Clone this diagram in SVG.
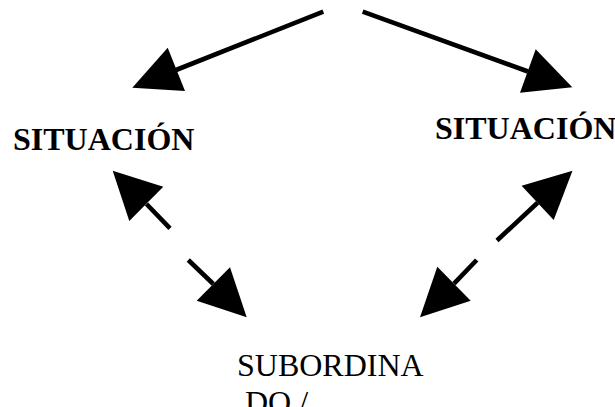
<svg xmlns="http://www.w3.org/2000/svg" width="615" height="407" viewBox="0 0 615 407">
  <style>
    .ln { stroke: #000; stroke-width: 4.6; fill: none; }
    .hd { fill: #000; stroke: none; }
    .lbl { font-family: "Liberation Serif", "Times New Roman", serif; font-size: 32px; fill: #000; }
    .b { font-weight: bold; }
  </style>
  <rect width="615" height="407" fill="#fff"/>
  <g id="connectors">
    <line class="ln" x1="323.3" y1="11.7" x2="176" y2="70"/>
    <polygon class="hd" points="132.3,87.7 167.7,47.7 185,91"/>
    <line class="ln" x1="362.7" y1="11.7" x2="528" y2="71.5"/>
    <polygon class="hd" points="572.3,87.3 535.7,49.3 520,92.7"/>
    <line class="ln" x1="170" y1="228.3" x2="146.5" y2="204"/>
    <polygon class="hd" points="112.7,170.7 163.3,186.7 129.3,221"/>
    <line class="ln" x1="188.3" y1="260" x2="213.3" y2="284"/>
    <polygon class="hd" points="246.7,317.3 230,267.3 196.7,300.7"/>
    <line class="ln" x1="497" y1="240.5" x2="537.6" y2="202.8"/>
    <polygon class="hd" points="572.5,170.7 521.6,185.7 553.7,220"/>
    <line class="ln" x1="476.7" y1="260" x2="454" y2="283.7"/>
    <polygon class="hd" points="420,317.3 437.3,266.7 470.7,300.7"/>
  </g>
  <g id="situacion-left">
    <text class="lbl b" x="13" y="150">SITUACIÓN</text>
  </g>
  <g id="situacion-right">
    <text class="lbl b" x="435" y="139.3">SITUACIÓN</text>
  </g>
  <g id="subordinado">
    <text class="lbl" x="237" y="375.7">SUBORDINA</text>
    <text class="lbl" x="245" y="412.7">DO /</text>
  </g>
</svg>
